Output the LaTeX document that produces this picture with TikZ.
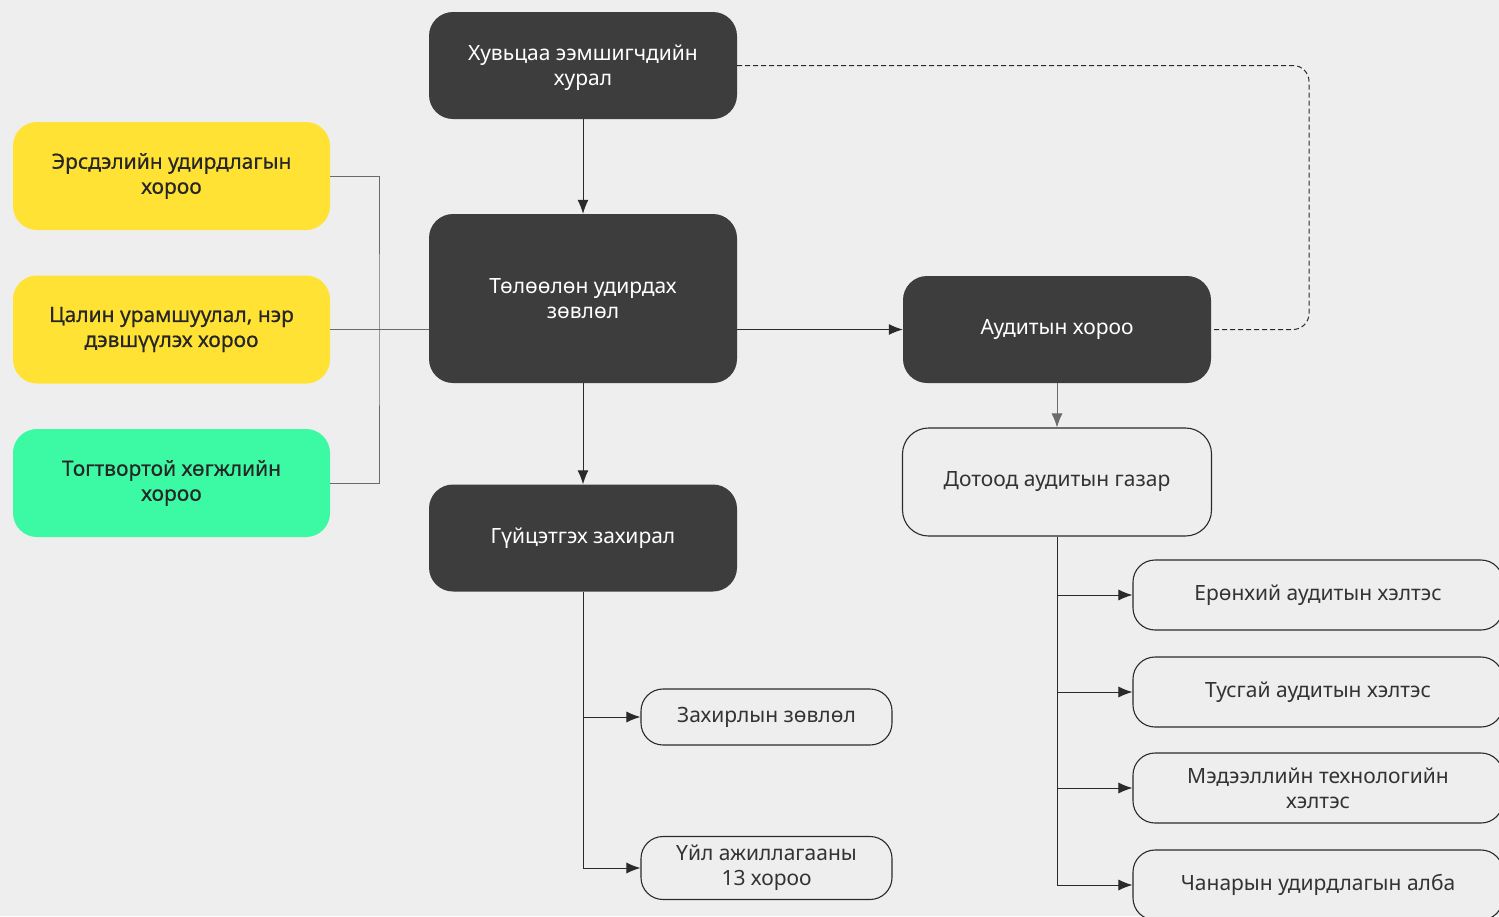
\documentclass[tikz,border=0pt]{standalone}
\usepackage{fontspec}
\setmainfont{Noto Sans}
\newfontfamily\medfont[FakeBold=0.5]{Noto Sans}
\usetikzlibrary{arrows.meta}
\definecolor{mdark}{HTML}{3D3D3D}
\definecolor{myellow}{HTML}{FFE234}
\definecolor{mgreen}{HTML}{3CF9A3}
\definecolor{mbg}{HTML}{EEEEEE}
\definecolor{mline}{HTML}{6A6A6A}
\definecolor{marrow}{HTML}{2A2A2A}

\begin{document}
\begin{tikzpicture}[x=1pt, y=-1pt, >={Latex[length=14pt,width=11pt]},
    darkbox/.style={rectangle, rounded corners=24pt, fill=mdark, text=white, minimum width=308pt, minimum height=107pt, align=center, font=\fontsize{21}{25}\selectfont},
    combox/.style={rectangle, rounded corners=24pt, minimum width=317pt, minimum height=108pt, align=center, text=black!85, font=\medfont\fontsize{21}{25}\selectfont},
    unitbox/.style={rectangle, rounded corners=22pt, draw=marrow, line width=1.1pt, fill=mbg, align=center, text=black!80, font=\fontsize{21}{25}\selectfont},
    conn/.style={draw=marrow, line width=1pt}]
    \clip (0,0) rectangle (1499,916);
    \fill[mbg] (0,0) rectangle (1499,916);

    \node[darkbox, text depth=-4pt] (meeting)  at (583, 65.5)  {Хувьцаа ээмшигчдийн\\хурал};
    \node[darkbox, minimum height=169pt] (board) at (583, 298.5) {Төлөөлөн удирдах\\зөвлөл};
    \node[darkbox] (ceo)      at (583, 538)   {Гүйцэтгэх захирал};
    \node[darkbox] (auditcom) at (1057, 329.5) {Аудитын хороо};
    \node[unitbox, minimum width=309pt, minimum height=108pt, rounded corners=26pt] (internal) at (1057, 482) {Дотоод аудитын газар};

    \node[combox, fill=myellow] (risk) at (171.5, 176)   {Эрсдэлийн удирдлагын\\хороо};
    \node[combox, fill=myellow] (pay)  at (171.5, 329.5) {Цалин урамшуулал, нэр\\дэвшүүлэх хороо};
    \node[combox, fill=mgreen]  (sust) at (171.5, 483)   {Тогтвортой хөгжлийн\\хороо};
    \coordinate (bracket) at (379, 329.5);

    \node[unitbox, minimum width=251pt, minimum height=56pt] (ceoboard) at (766.5, 717) {Захирлын зөвлөл};
    \node[unitbox, minimum width=251pt, minimum height=63pt] (opscom)   at (766.5, 868) {Үйл ажиллагааны\\13 хороо};

    \node[unitbox, minimum width=370pt, minimum height=70pt] (general) at (1318, 595) {Ерөнхий аудитын хэлтэс};
    \node[unitbox, minimum width=370pt, minimum height=70pt] (special) at (1318, 692) {Тусгай аудитын хэлтэс};
    \node[unitbox, minimum width=370pt, minimum height=70pt] (itaudit) at (1318, 788) {Мэдээллийн технологийн\\хэлтэс};
    \node[unitbox, minimum width=370pt, minimum height=70pt] (quality) at (1318, 885) {Чанарын удирдлагын алба};
    \coordinate (dashturn) at (1309, 200);

    % committees
    \draw[mline, line width=1pt] (risk.east) -| (bracket) |- (sust.east);
    \draw[mline, line width=1pt] (pay.east) -- (pay.east -| board.west);

    \draw[conn, ->] (meeting) -- (board);
    \draw[conn, ->] (board.east |- auditcom.west) -- (auditcom.west);
    \draw[conn, ->] (board) -- (ceo);
    \draw[conn, mline, ->] (auditcom) -- (internal);
    \draw[conn, dashed, dash pattern=on 5pt off 3pt, rounded corners=16pt] (meeting.east) -| (dashturn) |- (auditcom.east);

    \draw[conn, ->] (ceo.south) |- (ceoboard.west);
    \draw[conn, ->] (ceo.south) |- (opscom.west);

    \draw[conn, ->] (internal.south) |- (general.west);
    \draw[conn, ->] (internal.south) |- (special.west);
    \draw[conn, ->] (internal.south) |- (itaudit.west);
    \draw[conn, ->] (internal.south) |- (quality.west);
\end{tikzpicture}
\end{document}
